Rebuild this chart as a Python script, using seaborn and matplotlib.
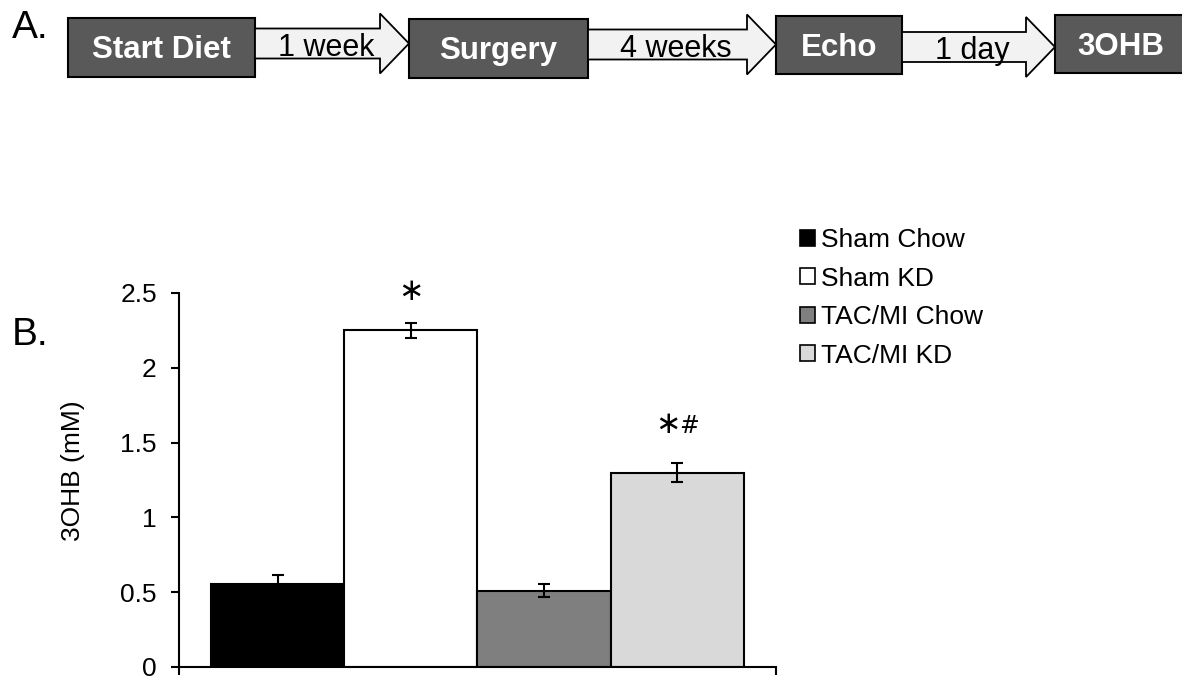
import matplotlib
matplotlib.use("Agg")
import matplotlib.pyplot as plt
from matplotlib.patches import Rectangle, Polygon, Patch
import seaborn as sns
import pandas as pd

# Panel A: timeline
steps = ["Start Diet", "Surgery", "Echo", "3OHB"]
intervals = ["1 week", "4 weeks", "1 day"]

# Panel B: 3OHB levels
groups = ["Sham Chow", "Sham KD", "TAC/MI Chow", "TAC/MI KD"]
ohb_mean = [0.555, 2.25, 0.51, 1.30]
ohb_err = [0.06, 0.05, 0.045, 0.065]
sig_marks = ["", "∗", "", "∗#"]
bar_colors = ["#000000", "#ffffff", "#7f7f7f", "#d9d9d9"]

sns.set_style("white")
plt.rcParams["font.family"] = ["Liberation Sans", "DejaVu Sans"]
plt.rcParams.update({"text.color": "black", "axes.labelcolor": "black",
                     "xtick.color": "black", "ytick.color": "black",
                     "axes.edgecolor": "black"})

W, H = 1182, 677
fig = plt.figure(figsize=(W / 100, H / 100), dpi=100)

# ---- timeline drawn in pixel coordinates ----
top = fig.add_axes([0, 0, 1, 1])
top.set_xlim(0, W)
top.set_ylim(H, 0)
top.axis("off")

box_left = [68, 409, 776, 1055]
box_right = [255, 588, 902, 1186]
box_top = [18, 19, 16, 15]
box_bot = [77, 78, 74, 73]
arrow_y = [43.5, 44.5, 47]
shaft_half, head_half, head_len = 15, 30, 29

for i, name in enumerate(steps):
    top.add_patch(Rectangle((box_left[i], box_top[i]), box_right[i] - box_left[i],
                            box_bot[i] - box_top[i], facecolor="#595959",
                            edgecolor="black", linewidth=1.5))
    cy = (box_top[i] + box_bot[i]) / 2
    top.text((box_left[i] + box_right[i]) / 2, cy + 11, name, color="white",
             fontsize=22.5, fontweight="bold", ha="center", va="baseline")

for i, lab in enumerate(intervals):
    x0, x1 = box_right[i], box_left[i + 1]
    yc = arrow_y[i]
    xb = x1 - head_len
    pts = [(x0, yc - shaft_half), (xb, yc - shaft_half), (xb, yc - head_half),
           (x1, yc), (xb, yc + head_half), (xb, yc + shaft_half), (x0, yc + shaft_half)]
    top.add_patch(Polygon(pts, closed=True, facecolor="#f2f2f2",
                          edgecolor="black", linewidth=1.3))
    top.text((x0 + x1) / 2 - 6, yc + 12.5, lab, fontsize=22,
             ha="center", va="baseline", color="black")

top.text(12, 38, "A.", fontsize=28, ha="left", va="baseline")
top.text(12, 345, "B.", fontsize=28, ha="left", va="baseline")

# ---- bar chart ----
ax = fig.add_axes([179 / W, (H - 667) / H, 597 / W, 374 / H])
df = pd.DataFrame({"group": groups, "ohb": ohb_mean})
sns.barplot(data=df, x="group", y="ohb", hue="group", palette=bar_colors,
            order=groups, hue_order=groups, width=1.0, errorbar=None,
            edgecolor="black", linewidth=1.5, legend=False, ax=ax)
ax.errorbar(range(len(groups)), ohb_mean, yerr=ohb_err, fmt="none",
            ecolor="black", elinewidth=1.5, capsize=4.3, capthick=1.5, zorder=5)

for i, mark in enumerate(sig_marks):
    if mark == "∗":
        ax.text(i, ohb_mean[i] + ohb_err[i] + 0.21, "∗", fontsize=22,
                family="DejaVu Sans", ha="center", va="center")
    elif mark == "∗#":
        yy = ohb_mean[i] + ohb_err[i] + 0.255
        ax.text(i - 0.075, yy, "∗", fontsize=22, family="DejaVu Sans",
                ha="center", va="center")
        ax.text(i + 0.085, yy - 0.01, "#", fontsize=17, family="DejaVu Sans",
                ha="center", va="center")

ax.set_xlim(-0.74, 3.74)
ax.set_ylim(0, 2.5)
ax.set_yticks([0, 0.5, 1, 1.5, 2, 2.5])
ax.set_yticklabels(["0", "0.5", "1", "1.5", "2", "2.5"])
ax.set_xticks([-0.74, 3.74])
ax.set_xticklabels(["", ""])
ax.set_xlabel("")
ax.set_ylabel("3OHB (mM)", fontsize=19)
ax.yaxis.set_label_coords(-0.157, 0.524)
ax.tick_params(axis="y", direction="out", length=6, width=1.5, pad=10,
               labelsize=19, left=True, colors="black")
ax.tick_params(axis="x", direction="out", length=6, width=1.5, bottom=True,
               colors="black")
for s in ["top", "right"]:
    ax.spines[s].set_visible(False)
for s in ["left", "bottom"]:
    ax.spines[s].set_color("black")
    ax.spines[s].set_linewidth(1.5)
ax.patch.set_alpha(0)

handles = [Patch(facecolor=c, edgecolor="black", linewidth=1.2) for c in bar_colors]
leg = fig.legend(handles, groups, loc="upper left",
                 bbox_to_anchor=(800 / W, 1 - 228 / H), frameon=False, fontsize=19,
                 handlelength=0.57, handleheight=0.57, handletextpad=0.23,
                 labelspacing=0.55, borderpad=0, borderaxespad=0)
for t in leg.get_texts():
    t.set_color("black")

fig.savefig("out.png", dpi=100)
